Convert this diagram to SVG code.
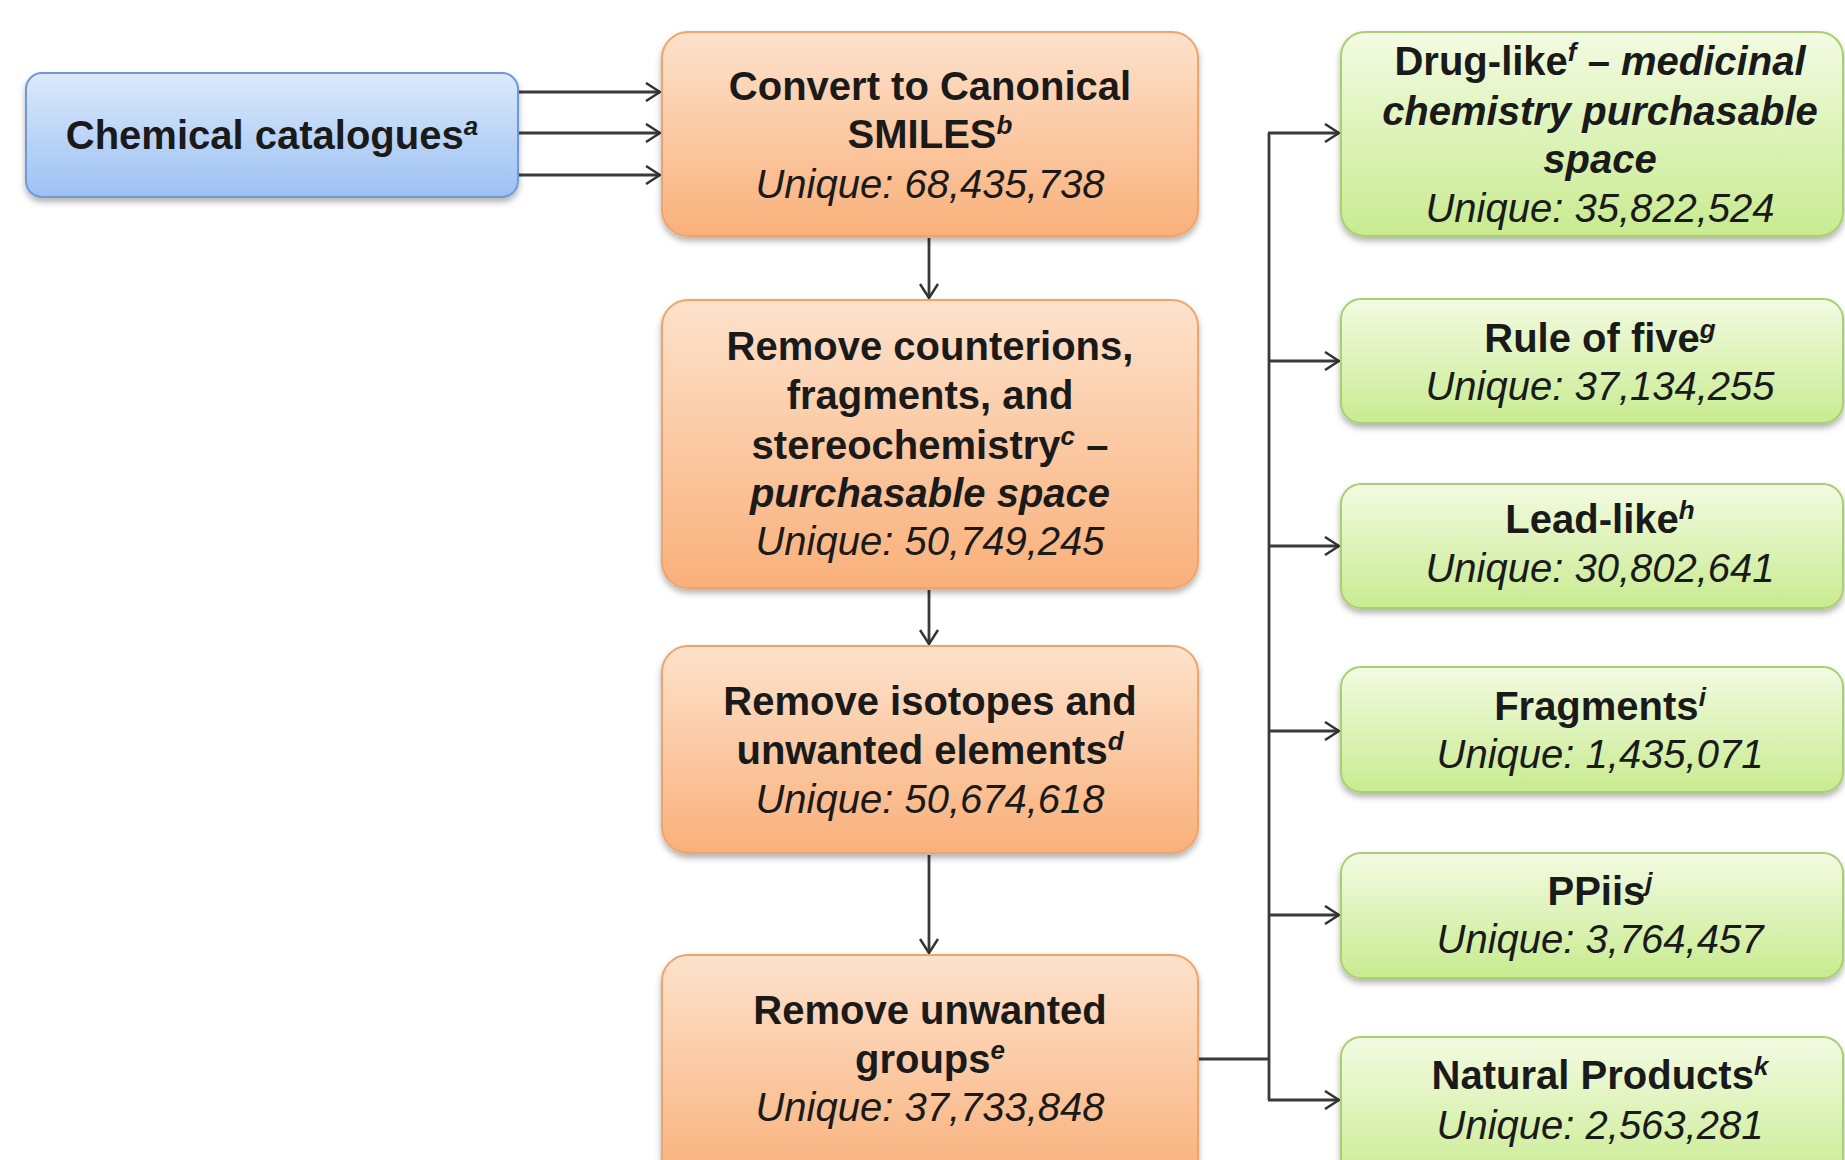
<svg xmlns="http://www.w3.org/2000/svg" width="1845" height="1160" viewBox="0 0 1845 1160">
<defs>
<linearGradient id="gBlue" x1="0" y1="0" x2="0" y2="1">
<stop offset="0" stop-color="#dce9fb"/><stop offset="1" stop-color="#9cc1f3"/>
</linearGradient>
<linearGradient id="gOrange" x1="0" y1="0" x2="0" y2="1">
<stop offset="0" stop-color="#fde2cc"/><stop offset="1" stop-color="#f9b07a"/>
</linearGradient>
<linearGradient id="gGreen" x1="0" y1="0" x2="0" y2="1">
<stop offset="0" stop-color="#f3fbe2"/><stop offset="1" stop-color="#c8eb90"/>
</linearGradient>
<filter id="sh" x="-5%" y="-10%" width="110%" height="130%">
<feDropShadow dx="0" dy="4" stdDeviation="3" flood-color="#000" flood-opacity="0.3"/>
</filter>
<marker id="arr" viewBox="0 0 16 20" refX="15" refY="10" markerWidth="16" markerHeight="20" markerUnits="userSpaceOnUse" orient="auto">
<path d="M1,1 L15,10 L1,19" fill="none" stroke="#333" stroke-width="2.5"/>
</marker>
<style>
text{font-family:"Liberation Sans",Arial,sans-serif;font-size:40px;fill:#1a1a1a;text-anchor:middle}
.b{font-weight:bold}
.i{font-style:italic}
.bi{font-weight:bold;font-style:italic}
.sup{font-size:26px;font-style:italic;font-weight:bold}
.blue{fill:url(#gBlue);stroke:#6f9ad4;stroke-width:2;filter:url(#sh)}
.orange{fill:url(#gOrange);stroke:#f0a468;stroke-width:2;filter:url(#sh)}
.green{fill:url(#gGreen);stroke:#a8cf70;stroke-width:2;filter:url(#sh)}
.c{fill:none;stroke:#3a3a3a;stroke-width:2.8}
</style>
</defs>
<rect width="1845" height="1160" fill="#ffffff"/>

<g id="connectors">
<line class="c" x1="518" y1="92" x2="660" y2="92" marker-end="url(#arr)"/>
<line class="c" x1="518" y1="133" x2="660" y2="133" marker-end="url(#arr)"/>
<line class="c" x1="518" y1="175" x2="660" y2="175" marker-end="url(#arr)"/>
<line class="c" x1="929" y1="238" x2="929" y2="298" marker-end="url(#arr)"/>
<line class="c" x1="929" y1="590" x2="929" y2="644" marker-end="url(#arr)"/>
<line class="c" x1="929" y1="855" x2="929" y2="953" marker-end="url(#arr)"/>
<polyline class="c" points="1198,1059 1269,1059"/>
<line class="c" x1="1269" y1="133" x2="1269" y2="1100"/>
<line class="c" x1="1268" y1="133" x2="1339" y2="133" marker-end="url(#arr)"/>
<line class="c" x1="1268" y1="361" x2="1339" y2="361" marker-end="url(#arr)"/>
<line class="c" x1="1268" y1="546" x2="1339" y2="546" marker-end="url(#arr)"/>
<line class="c" x1="1268" y1="731" x2="1339" y2="731" marker-end="url(#arr)"/>
<line class="c" x1="1268" y1="915" x2="1339" y2="915" marker-end="url(#arr)"/>
<line class="c" x1="1268" y1="1100" x2="1339" y2="1100" marker-end="url(#arr)"/>
</g>

<g id="n-catalogues">
<rect class="blue" x="26" y="73" width="492" height="124" rx="16"/>
<text x="272" y="149" class="b">Chemical catalogues<tspan class="sup" dy="-14">a</tspan></text>
</g>

<g id="n-canonical">
<rect class="orange" x="662" y="32" width="536" height="204" rx="26"/>
<text x="930" y="100" class="b">Convert to Canonical</text>
<text x="930" y="148" class="b">SMILES<tspan class="sup" dy="-14">b</tspan></text>
<text x="930" y="198" class="i">Unique: 68,435,738</text>
</g>

<g id="n-counterions">
<rect class="orange" x="662" y="300" width="536" height="288" rx="26"/>
<text x="930" y="360" class="b">Remove counterions,</text>
<text x="930" y="409" class="b">fragments, and</text>
<text x="930" y="459" class="b">stereochemistry<tspan class="sup" dy="-14">c</tspan><tspan dy="14"> –</tspan></text>
<text x="930" y="507" class="bi">purchasable space</text>
<text x="930" y="555" class="i">Unique: 50,749,245</text>
</g>

<g id="n-isotopes">
<rect class="orange" x="662" y="646" width="536" height="207" rx="26"/>
<text x="930" y="715" class="b">Remove isotopes and</text>
<text x="930" y="764" class="b">unwanted elements<tspan class="sup" dy="-14">d</tspan></text>
<text x="930" y="813" class="i">Unique: 50,674,618</text>
</g>

<g id="n-groups">
<rect class="orange" x="662" y="955" width="536" height="230" rx="26"/>
<text x="930" y="1024" class="b">Remove unwanted</text>
<text x="930" y="1073" class="b">groups<tspan class="sup" dy="-14">e</tspan></text>
<text x="930" y="1121" class="i">Unique: 37,733,848</text>
</g>

<g id="n-druglike">
<rect class="green" x="1341" y="32" width="502" height="204" rx="24"/>
<text x="1600" y="75" class="b">Drug-like<tspan class="sup" dy="-14">f</tspan><tspan dy="14"> – </tspan><tspan class="bi">medicinal</tspan></text>
<text x="1600" y="125" class="bi">chemistry purchasable</text>
<text x="1600" y="173" class="bi">space</text>
<text x="1600" y="222" class="i">Unique: 35,822,524</text>
</g>

<g id="n-ro5">
<rect class="green" x="1341" y="299" width="502" height="124" rx="20"/>
<text x="1600" y="352" class="b">Rule of five<tspan class="sup" dy="-14">g</tspan></text>
<text x="1600" y="400" class="i">Unique: 37,134,255</text>
</g>

<g id="n-leadlike">
<rect class="green" x="1341" y="484" width="502" height="124" rx="20"/>
<text x="1600" y="533" class="b">Lead-like<tspan class="sup" dy="-14">h</tspan></text>
<text x="1600" y="582" class="i">Unique: 30,802,641</text>
</g>

<g id="n-fragments">
<rect class="green" x="1341" y="667" width="502" height="125" rx="20"/>
<text x="1600" y="720" class="b">Fragments<tspan class="sup" dy="-14">i</tspan></text>
<text x="1600" y="768" class="i">Unique: 1,435,071</text>
</g>

<g id="n-ppiis">
<rect class="green" x="1341" y="853" width="502" height="125" rx="20"/>
<text x="1600" y="905" class="b">PPiis<tspan class="sup" dy="-14">j</tspan></text>
<text x="1600" y="953" class="i">Unique: 3,764,457</text>
</g>

<g id="n-natural">
<rect class="green" x="1341" y="1037" width="502" height="150" rx="20"/>
<text x="1600" y="1089" class="b">Natural Products<tspan class="sup" dy="-14">k</tspan></text>
<text x="1600" y="1139" class="i">Unique: 2,563,281</text>
</g>
</svg>
